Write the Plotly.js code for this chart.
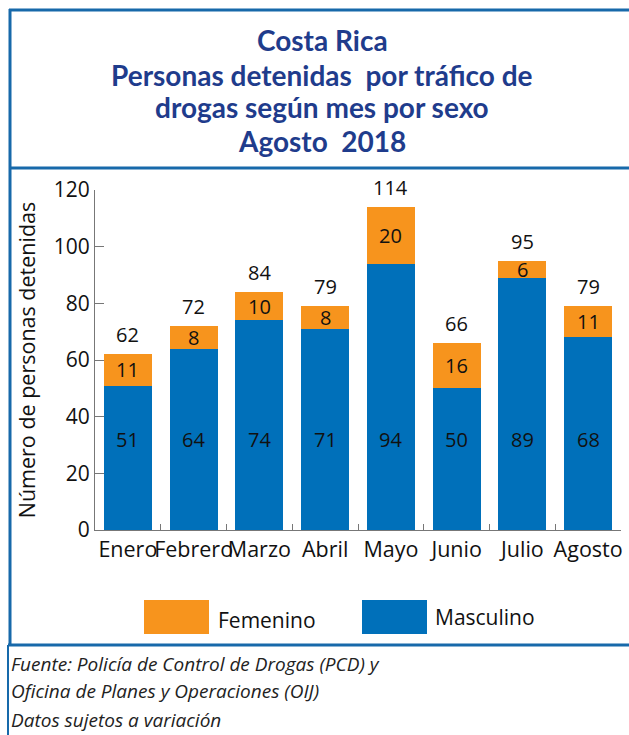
<!DOCTYPE html>
<html>
<head>
<meta charset="utf-8">
<script src="https://cdn.plot.ly/plotly-3.0.1.min.js"></script>
<style>
html,body{margin:0;padding:0;background:#fff;}
#chart{width:629px;height:735px;}
</style>
</head>
<body>
<div id="chart"></div>
<script>
const meses = ['Enero','Febrero','Marzo','Abril','Mayo','Junio','Julio','Agosto'];
const masculino = [51,64,74,71,94,50,89,68];
const femenino = [11,8,10,8,20,16,6,11];
const totales = [62,72,84,79,114,66,95,79];
const tituloLineas = ['Costa Rica','Personas detenidas  por tráfico de','drogas según mes por sexo','Agosto  2018'];
const notas = ['Fuente: Policía de Control de Drogas (PCD) y','Oficina de Planes y Operaciones (OIJ)','Datos sujetos a variación'];

const W = 629, H = 735;
const M = {l:95, r:8, t:190, b:205};
const PW = W - M.l - M.r, PH = H - M.t - M.b;
const px = x => (x - M.l) / PW;
const py = y => (H - M.b - y) / PH;

const AZUL = '#0070BA', NARANJA = '#F7941D', BORDE = '#1769AA', TIT = '#1F3C8C';
const FONT = 'Open Sans, Noto Sans, sans-serif';

const traces = [
  {type:'bar', name:'Masculino', x:meses, y:masculino, marker:{color:AZUL}, hoverinfo:'skip'},
  {type:'bar', name:'Femenino', x:meses, y:femenino, marker:{color:NARANJA}, hoverinfo:'skip'}
];

const ann = [];
meses.forEach((m,i) => {
  ann.push({x:m, y:32, xref:'x', yref:'y', text:String(masculino[i]), showarrow:false,
    font:{family:FONT, size:20, color:'#111'}, yanchor:'middle'});
  ann.push({x:m, y:masculino[i] + femenino[i]/2, xref:'x', yref:'y', text:String(femenino[i]), showarrow:false,
    font:{family:FONT, size:20, color:'#111'}, yanchor:'middle'});
  ann.push({x:m, y:totales[i], xref:'x', yref:'y', text:String(totales[i]), showarrow:false,
    font:{family:FONT, size:20, color:'#111'}, yanchor:'bottom', yshift:4});
});
const titY = [40, 75, 107, 141];
tituloLineas.forEach((t,i) => {
  ann.push({x:px(322), y:py(titY[i]), xref:'paper', yref:'paper', text:'<b>'+t+'</b>', showarrow:false,
    font:{family:'Lato, sans-serif', size:28, color:TIT}, xanchor:'center', yanchor:'middle'});
});
const notaY = [664, 691, 720];
notas.forEach((t,i) => {
  ann.push({x:px(9), y:py(notaY[i]), xref:'paper', yref:'paper', text:'<i>'+t+'</i>', showarrow:false,
    font:{family:FONT, size:19, color:'#222'}, xanchor:'left', yanchor:'middle'});
});
// legend labels
ann.push({x:px(216), y:py(620), xref:'paper', yref:'paper', text:'Femenino', showarrow:false,
  font:{family:FONT, size:21, color:'#111'}, xanchor:'left', yanchor:'middle'});
ann.push({x:px(433), y:py(617), xref:'paper', yref:'paper', text:'Masculino', showarrow:false,
  font:{family:FONT, size:21, color:'#111'}, xanchor:'left', yanchor:'middle'});

const shapes = [
  {type:'line', xref:'paper', yref:'paper', x0:px(9), x1:px(640), y0:py(10), y1:py(10), line:{color:BORDE, width:3}},
  {type:'line', xref:'paper', yref:'paper', x0:px(10), x1:px(10), y0:py(9), y1:py(645), line:{color:BORDE, width:3}},
  {type:'line', xref:'paper', yref:'paper', x0:px(10), x1:px(640), y0:py(168), y1:py(168), line:{color:BORDE, width:3}},
  {type:'line', xref:'paper', yref:'paper', x0:px(8), x1:px(640), y0:py(645), y1:py(645), line:{color:BORDE, width:3}},
  {type:'line', xref:'paper', yref:'paper', x0:px(8), x1:px(8), y0:py(645), y1:py(740), line:{color:BORDE, width:2}},
  {type:'rect', xref:'paper', yref:'paper', x0:px(144), x1:px(209), y0:py(600), y1:py(634), fillcolor:NARANJA, line:{width:0}},
  {type:'rect', xref:'paper', yref:'paper', x0:px(362), x1:px(427), y0:py(600), y1:py(634), fillcolor:AZUL, line:{width:0}}
];

const layout = {
  width:W, height:H,
  margin:M,
  paper_bgcolor:'#fff', plot_bgcolor:'#fff',
  barmode:'stack', bargap:0.27,
  showlegend:false,
  font:{family:FONT, size:20, color:'#111'},
  xaxis:{
    type:'category', showgrid:false, zeroline:false,
    showline:true, linecolor:'#777', linewidth:1,
    ticks:'inside', tickson:'boundaries', ticklen:6, tickcolor:'#777',
    tickangle:0,
    tickfont:{family:FONT, size:21.5, color:'#111'}
  },
  yaxis:{
    range:[0,120], dtick:20, showgrid:false, zeroline:false,
    showline:true, linecolor:'#777', linewidth:1,
    ticks:'inside', ticklen:9, tickcolor:'#777',
    tickfont:{family:FONT, size:21, color:'#111'},
    title:{text:'Número de personas detenidas', font:{family:FONT, size:21.5, color:'#111'}, standoff:12}
  },
  annotations:ann,
  shapes:shapes
};

Plotly.newPlot('chart', traces, layout, {displayModeBar:false, staticPlot:true});
</script>
</body>
</html>
